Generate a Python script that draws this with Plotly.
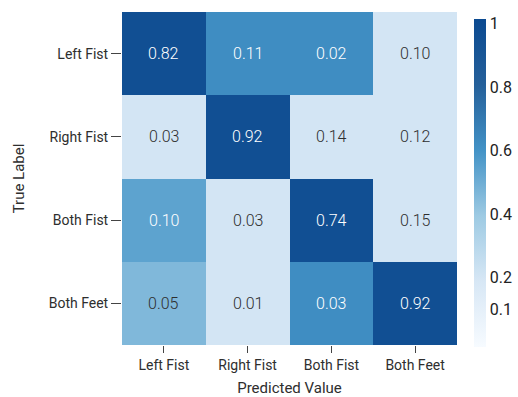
import plotly.graph_objects as go

classes = ["Left Fist", "Right Fist", "Both Fist", "Both Feet"]

# Printed scores per cell (rows: true class, columns: predicted class)
scores = [
    [0.82, 0.11, 0.02, 0.10],
    [0.03, 0.92, 0.14, 0.12],
    [0.10, 0.03, 0.74, 0.15],
    [0.05, 0.01, 0.03, 0.92],
]

# Shading intensity of each cell on the colour bar scale
shading = [
    [0.97, 0.62, 0.62, 0.20],
    [0.20, 0.97, 0.20, 0.20],
    [0.54, 0.20, 0.97, 0.20],
    [0.46, 0.20, 0.62, 0.97],
]

cbar_ticks = [1, 0.8, 0.6, 0.4, 0.2, 0.1]
cbar_labels = ["1", "0.8", "0.6", "0.4", "0.2", "0.1"]

colorscale = [
    [0.0, "#f7fbff"],
    [0.2, "#d7e7f5"],
    [0.4, "#9dcae3"],
    [0.6, "#4292c6"],
    [0.8, "#25609a"],
    [1.0, "#0b4a91"],
]

FONT = "Roboto, 'Open Sans', sans-serif"
TXT = "#2e2e2e"

fig = go.Figure(
    go.Heatmap(
        z=shading,
        x=classes,
        y=classes,
        zmin=-0.02,
        zmax=1.015,
        colorscale=colorscale,
        showscale=True,
        colorbar=dict(
            thickness=12,
            lenmode="pixels",
            len=328,
            yref="paper",
            y=(345 - 183) / 333,
            yanchor="middle",
            x=(474 - 122) / 335,
            xanchor="left",
            xpad=0,
            ypad=0,
            outlinewidth=0,
            tickvals=cbar_ticks,
            ticktext=cbar_labels,
            ticks="",
            tickfont=dict(family=FONT, size=16, color="#222", weight=400),
        ),
        hoverinfo="skip",
    )
)

# Cell annotations: white on dark cells, dark grey on light ones
for i, row in enumerate(scores):
    for j, val in enumerate(row):
        fig.add_annotation(
            x=classes[j],
            y=classes[i],
            text=f"{val:.2f}",
            showarrow=False,
            font=dict(family=FONT, size=16, weight=300,
                      color="#ffffff" if shading[i][j] > 0.5 else TXT),
        )

fig.update_layout(
    width=518,
    height=397,
    margin=dict(l=122, r=61, t=12, b=52, autoexpand=False),
    paper_bgcolor="white",
    plot_bgcolor="white",
    font=dict(family=FONT, size=14, color=TXT),
    xaxis=dict(
        title=dict(text="Predicted Value", font=dict(size=15, color=TXT), standoff=12),
        ticks="outside",
        ticklen=7,
        tickcolor="#444",
        tickfont=dict(size=14, color=TXT),
        showgrid=False,
        zeroline=False,
        showline=False,
    ),
    yaxis=dict(
        title=dict(text="True Label", font=dict(size=15, color=TXT), standoff=20),
        autorange="reversed",
        ticks="outside",
        ticklen=10,
        tickcolor="#444",
        tickfont=dict(size=14, color=TXT),
        showgrid=False,
        zeroline=False,
        showline=False,
    ),
)

fig.write_html("out.html")
